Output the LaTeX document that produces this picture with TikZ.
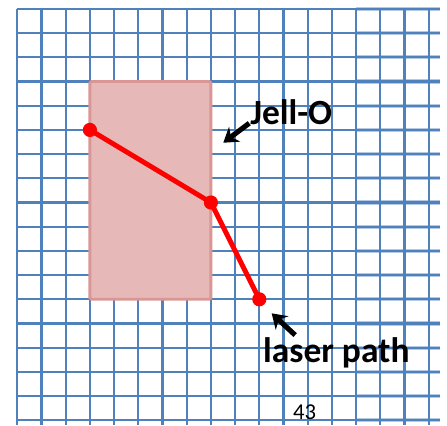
\documentclass[tikz,border=0pt]{standalone}
\usepackage{fontspec}
\setmainfont{Carlito}
\usetikzlibrary{arrows.meta}
\definecolor{gridblue}{HTML}{4F81BD}
\definecolor{gridpale}{HTML}{B4C9E4}
\definecolor{jello}{HTML}{E6B9B8}
\definecolor{jelloedge}{HTML}{D99694}

\begin{document}
\begin{tikzpicture}[scale=0.6,
    gridline/.style={gridblue, line width=1.6pt},
    dot/.style={circle, fill=red, inner sep=0pt, minimum size=10pt},
    beam/.style={red, line width=3.5pt},
    tag/.style={font=\bfseries\fontsize{25}{25}\selectfont, inner sep=0pt, anchor=base west},
    pointer/.style={line width=3.6pt, -{Stealth[length=10pt,width=13pt]}}]
    \useasboundingbox (-0.715,-0.194) rectangle (17.756,17.368);

    % Grid paper
    \foreach \y in {0,...,17}
        \draw[gridpale, line width=3pt] (14,\y) -- (17.47,\y);
    \foreach \y in {0,...,17}
        \draw[gridline] (0,\y) -- (17.47,\y);
    \foreach \x in {0,...,17}
        \draw[gridline] (\x,-0.194) -- (\x,17);

    % Jell-O block
    \draw[jelloedge, fill=jello, line width=2pt, rounded corners=1pt] (3,5) rectangle (8,14);

    % Laser path
    \node[dot] (entry) at (3,12) {};
    \node[dot] (exit) at (8,9) {};
    \node[dot] (spot) at (10,5) {};
    \draw[beam] (entry.center) -- (exit.center) -- (spot.center);

    % Labels with pointers
    \node[tag] (jelltext) at (9.62,12.24) {Jell-O};
    \coordinate (jelltip) at (8.51,11.47);
    \draw[pointer] ([xshift=-1pt,yshift=1pt]jelltext.base west) -- (jelltip);

    \node[tag] (lasertext) at (10.15,2.37) {laser path};
    \coordinate (lasertail) at (11.48,3.52);
    \coordinate (lasertip) at (10.51,4.42);
    \draw[pointer] (lasertail) -- (lasertip);

    % Page number
    \node[font=\fontsize{16}{16}\selectfont] (pagenum) at (11.87,0.33) {43};
\end{tikzpicture}
\end{document}
